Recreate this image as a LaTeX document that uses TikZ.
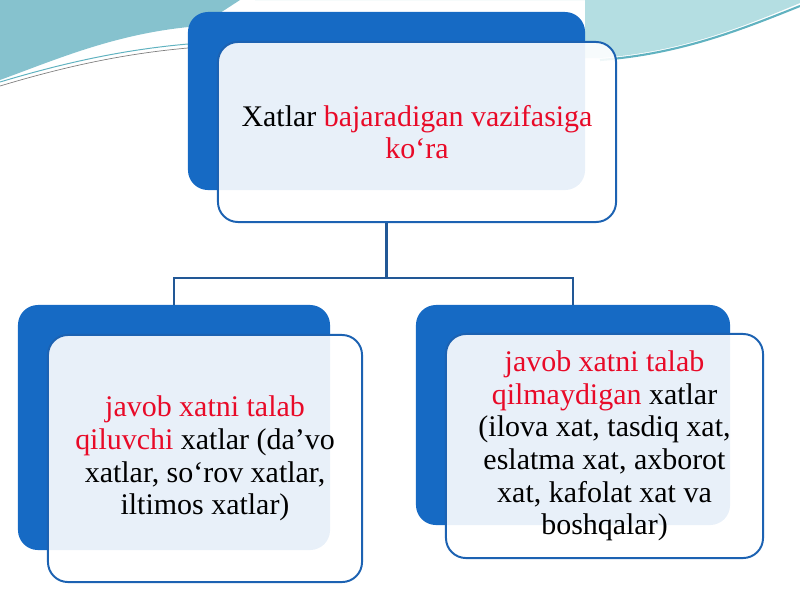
\documentclass[tikz,border=0pt]{standalone}
\usepackage{fontspec}
\setmainfont{Liberation Serif}
\usetikzlibrary{positioning}

\definecolor{backblue}{RGB}{22,106,196}
\definecolor{edgeblue}{RGB}{28,98,178}
\definecolor{linkblue}{RGB}{34,88,150}
\definecolor{wordred}{RGB}{232,10,40}
\definecolor{seateal}{RGB}{134,194,206}
\definecolor{paleteal}{RGB}{180,222,226}
\definecolor{rimteal}{RGB}{96,178,192}

\tikzset{
  backbox/.style={fill=backblue, rounded corners=0.5cm, inner sep=0pt},
  frontbox/.style={draw=edgeblue, line width=1.4pt, fill=white, fill opacity=0.9,
    text opacity=1, rounded corners=0.5cm, align=center,
    font=\fontsize{21.3}{23.2}\selectfont},
  link/.style={draw=linkblue, line width=1.5pt},
}
\newcommand{\hl}[1]{\textcolor{wordred}{#1}}

\begin{document}
\begin{tikzpicture}[x=0.025cm, y=-0.025cm]
    \useasboundingbox (0,0) rectangle (800,600);

    % swooshes at the top
    \fill[seateal] (0,0) -- (0,80) .. controls (60,58) and (120,32) .. (200,26) -- (240,0) -- cycle;
    \fill[paleteal] (255,0) -- (800,0) -- (800,3) .. controls (740,28) and (680,52) .. (600,58) -- (585,58) -- (585,0) -- cycle;
    \draw[rimteal, line width=1.5pt] (800,6) .. controls (740,30) and (680,54) .. (600,60);
    \draw[rimteal, line width=0.7pt] (0,82) .. controls (60,64) and (120,50) .. (188,44);
    \draw[gray, line width=0.5pt] (0,86) .. controls (60,68) and (120,54) .. (188,48);

    % back boxes
    \node[backbox, minimum width=9.925cm, minimum height=4.45cm] (topback) at (386.5,101) {};
    \node[backbox, minimum width=7.8cm, minimum height=6.125cm] (leftback) at (174,427.5) {};
    \node[backbox, minimum width=7.85cm, minimum height=5.5cm] (rightback) at (573,415) {};

    % front boxes
    \node[frontbox, minimum width=9.95cm, minimum height=4.5cm] (topfront) at (417,132)
        {Xatlar \hl{bajaradigan vazifasiga}\\ \hl{ko‘ra}};
    \node[frontbox, minimum width=7.85cm, minimum height=6.175cm] (leftfront) at (205,458.5)
        {\hl{javob xatni talab}\\ \hl{qiluvchi} xatlar (da’vo\\ xatlar, so‘rov xatlar,\\ iltimos xatlar)};
    \node[frontbox, minimum width=7.925cm, minimum height=5.6cm] (rightfront) at (604.5,446)
        {\hl{javob xatni talab}\\ \hl{qilmaydigan} xatlar\\ (ilova xat, tasdiq xat,\\ eslatma xat, axborot\\ xat, kafolat xat va\\ boshqalar)};

    % tree lines
    \draw[link] (topback.south |- topfront.south) -- ++(0,55) coordinate (fork) -| (leftback.north);
    \draw[link] (fork) -| (rightback.north);
\end{tikzpicture}
\end{document}
